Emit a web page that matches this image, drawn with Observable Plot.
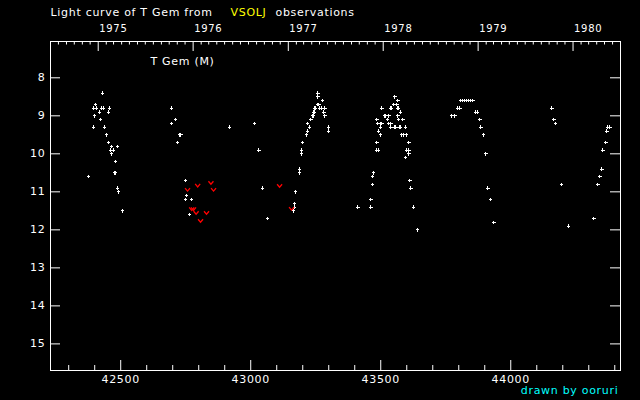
<!DOCTYPE html>
<html><head><meta charset="utf-8">
<script src="https://cdn.jsdelivr.net/npm/d3@7"></script>
<script src="https://cdn.jsdelivr.net/npm/@observablehq/plot@0.6"></script>
<style>html,body{margin:0;padding:0;background:#000;} svg{display:block}</style>
</head><body><div id="chart"></div>
<script>
// Observations: Julian Date - 2400000 and visual magnitude
const obsJD = [
  42430,42404,42397,42407,42427,42434,42457,42419,42454,42400,42423,42396,42438,42446,42454,42465,42488,42461,42473,42465,42480,42477,42480,42377,42488,42492,42507,
  42696,42711,42696,42727,42731,42719,42919,42750,42754,42750,42773,42765,
  43015,43031,43046,43065,43169,43169,43165,43173,43188,43188,43196,43196,43200,43215,43219,43227,43219,43231,43238,43242,43242,43246,43246,43250,43265,43273,43285,43258,43262,43277,43258,43258,43281,43285,43300,43300,
  43554,43566,43550,43562,43504,43539,43542,43566,43569,43577,43515,43519,43531,43566,43485,43527,43569,43585,43489,43500,43504,43531,43539,43500,43539,43554,43558,43573,43577,43596,43492,43500,43581,43589,43600,43485,43608,43485,43492,43600,43608,43608,43596,43473,43469,43469,43462,43412,43462,43612,43616,43627,43642,
  43808,43815,43823,43831,43839,43846,43854,43796,43804,43773,43785,43866,43873,43881,43885,43896,43904,43912,43923,43935,
  44158,44166,44173,44196,44223,44320,44335,44343,44350,44354,44366,44370,44373,44381
];
const obsMag = [
  8.4,8.7,8.8,8.8,8.8,8.8,8.8,8.9,8.9,9.0,9.1,9.3,9.3,9.5,9.7,9.8,9.8,9.9,9.9,10.0,10.2,10.5,10.5,10.6,10.9,11.0,11.5,
  8.8,9.1,9.2,9.5,9.5,9.7,9.3,10.7,11.1,11.2,11.2,11.6,
  9.2,9.9,10.9,11.7,11.3,11.4,11.5,11.0,10.4,10.5,9.9,10.0,9.7,9.5,9.4,9.3,9.2,9.1,9.0,9.0,8.9,8.9,8.8,8.8,8.8,8.8,8.8,8.7,8.7,8.6,8.4,8.5,8.9,9.0,9.3,9.4,
  8.5,8.6,8.7,8.7,8.8,8.8,8.8,8.8,8.8,8.9,9.0,9.0,9.0,9.0,9.1,9.1,9.1,9.1,9.2,9.2,9.2,9.2,9.2,9.3,9.3,9.3,9.3,9.3,9.3,9.3,9.4,9.5,9.5,9.5,9.5,9.7,9.7,9.9,9.9,9.9,9.9,10.0,10.1,10.5,10.6,10.8,11.2,11.4,11.4,10.7,10.9,11.4,12.0,
  8.6,8.6,8.6,8.6,8.6,8.6,8.6,8.8,8.8,9.0,9.0,8.9,8.9,9.1,9.3,9.5,10.0,10.9,11.2,11.8,
  8.8,9.1,9.2,10.8,11.9,11.7,10.8,10.6,10.4,9.9,9.7,9.4,9.3,9.3
];
// "fainter than" estimates (red marks)
const fainterJD  = [42847,42796,42757,42857,42773,42780,42790,42830,42807,43111,43157];
const fainterMag = [10.76,10.83,10.94,10.94,11.45,11.45,11.55,11.55,11.76,10.84,11.44];

// Axes
const jdDomain = [42230, 44422];
const magDomain = [15.70, 7.045];
const magTicks = [8, 9, 10, 11, 12, 13, 14, 15];
const jdLabels = [42500, 43000, 43500, 44000];
const jdMinor = [42300,42400,42600,42700,42800,42900,43100,43200,43300,43400,43600,43700,43800,43900,44100,44200,44300,44400];
const years = [1975, 1976, 1977, 1978, 1979, 1980];

const toJD = (y, m) => Date.UTC(y, m, 1) / 86400000 + 40587.5;
const monthTicks = [];
for (let y = 1974; y <= 1980; y++) for (let m = 1; m < 12; m++) {
  const j = toJD(y, m);
  if (j > jdDomain[0] + 2 && j < jdDomain[1] - 2) monthTicks.push(j);
}
const yearJD = years.map(y => toJD(y, 0));

const vSym = {draw(ctx) { ctx.moveTo(-2.5, -1.5); ctx.lineTo(0, 1.5); ctx.lineTo(2.5, -1.5); }};

const W = "#fff";
const chart = Plot.plot({
  width: 640, height: 400,
  marginLeft: 50, marginRight: 20, marginTop: 41, marginBottom: 30,
  style: {background: "#000", color: W, fontFamily: "DejaVu Sans", fontSize: "11px", letterSpacing: "0.7px", overflow: "visible"},
  x: {domain: jdDomain, axis: null},
  y: {domain: magDomain, axis: null},
  marks: [
    Plot.frame({stroke: W}),
    // bottom ticks
    Plot.ruleX(jdLabels, {x: d => d, insetTop: 319, stroke: W}),
    Plot.ruleX(jdMinor, {x: d => d, insetTop: 324, stroke: W}),
    // top ticks
    Plot.ruleX(yearJD, {x: d => d, insetBottom: 319, stroke: W}),
    Plot.ruleX(monthTicks, {x: d => d, insetBottom: 325.5, stroke: W}),
    // y ticks left & right
    Plot.ruleY(magTicks, {y: d => d, insetRight: 560, stroke: W}),
    Plot.ruleY(magTicks, {y: d => d, insetLeft: 560, stroke: W}),
    // labels
    Plot.text(jdLabels, {x: d => d, text: d => String(d), frameAnchor: "bottom", lineAnchor: "bottom", dy: 12, fill: W}),
    Plot.text(years, {x: d => toJD(d, 0), text: d => String(d), frameAnchor: "top", lineAnchor: "bottom", textAnchor: "start", dx: 1, dy: -10, fontSize: 10, fill: W}),
    Plot.text(magTicks, {y: d => d, text: d => String(d), frameAnchor: "left", textAnchor: "end", dx: -5, fill: W}),
    Plot.text(["T Gem (M)"], {frameAnchor: "top-left", textAnchor: "start", lineAnchor: "bottom", dx: 100, dy: 23, fill: W}),
    Plot.text(["Light curve of T Gem from"], {frameAnchor: "top-left", textAnchor: "start", lineAnchor: "bottom", dx: 0, dy: -26, fill: W}),
    Plot.text(["VSOLJ"], {frameAnchor: "top-left", textAnchor: "start", lineAnchor: "bottom", dx: 180, dy: -26, fill: "#ff0"}),
    Plot.text(["observations"], {frameAnchor: "top-left", textAnchor: "start", lineAnchor: "bottom", dx: 225, dy: -26, fill: W}),
    Plot.text(["drawn by ooruri"], {frameAnchor: "bottom-right", textAnchor: "end", lineAnchor: "bottom", dx: -2, dy: 23, fill: "#0ff"}),
    // data
    Plot.dot(obsJD, {x: obsJD, y: obsMag, symbol: "plus", r: 1.2, stroke: W, strokeWidth: 1, shapeRendering: "crispEdges"}),
    Plot.dot(fainterJD, {x: fainterJD, y: fainterMag, symbol: vSym, stroke: "#f00", fill: "none", strokeWidth: 1.3})
  ]
});
document.getElementById("chart").appendChild(chart);
</script>
</body></html>
